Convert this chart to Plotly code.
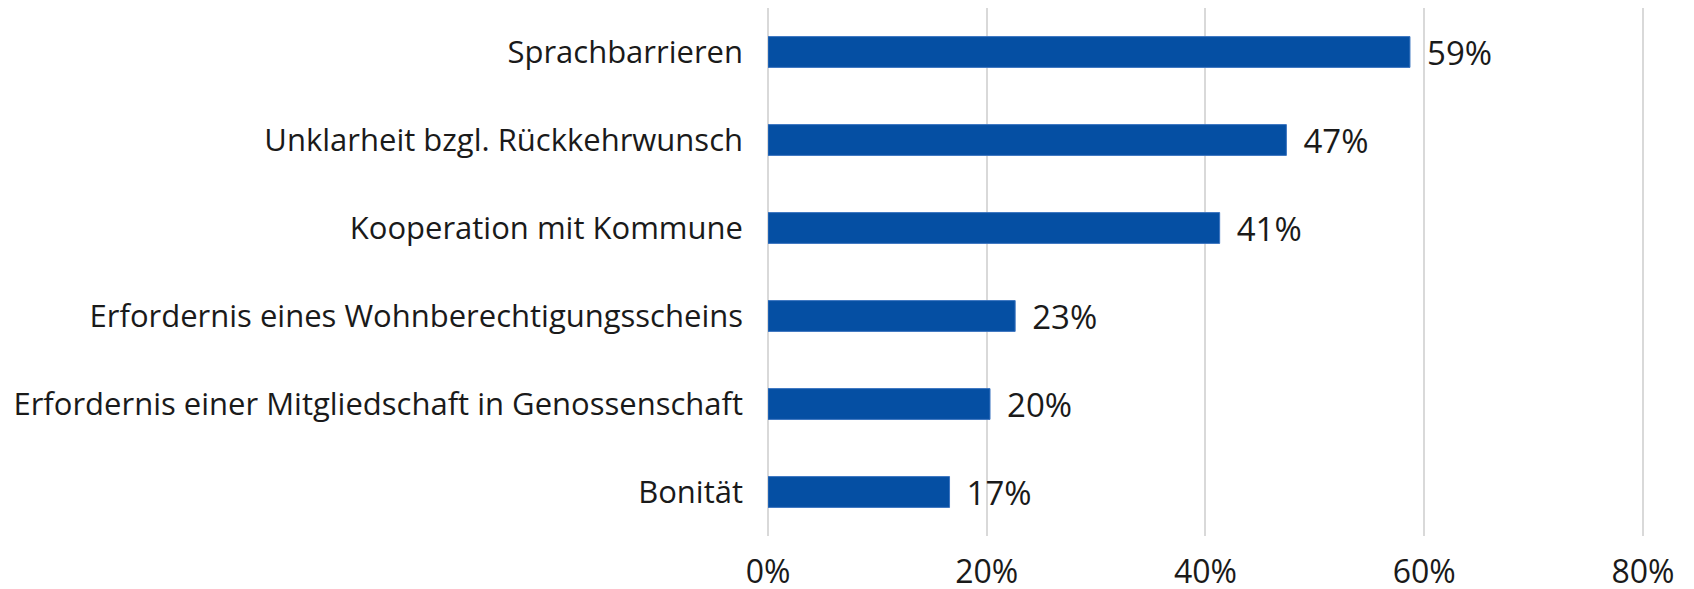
import plotly.graph_objects as go

categories = [
    "Sprachbarrieren",
    "Unklarheit bzgl. Rückkehrwunsch",
    "Kooperation mit Kommune",
    "Erfordernis eines Wohnberechtigungsscheins",
    "Erfordernis einer Mitgliedschaft in Genossenschaft",
    "Bonität",
]
values = [58.7, 47.4, 41.3, 22.6, 20.3, 16.6]
tick_vals = [0, 20, 40, 60, 80]
tick_text = ["0%", "20%", "40%", "60%", "80%"]

FONT = "Open Sans"
CAT_SIZE = 31
NUM_SIZE = 33
TICK_SIZE = 32
TXT = "#1a1a1a"

fig = go.Figure(
    go.Bar(
        y=categories,
        x=values,
        orientation="h",
        marker=dict(color="#054FA3", line=dict(color="#3b74c0", width=1)),
        texttemplate="\u00a0\u2009%{x:.0f}%",
        textposition="outside",
        constraintext="none",
        textfont=dict(family=FONT, size=NUM_SIZE, color=TXT),
        cliponaxis=False,
        width=0.35,
    )
)

fig.update_layout(
    width=1694,
    height=589,
    margin=dict(l=768, r=50, t=8, b=53),
    paper_bgcolor="white",
    plot_bgcolor="white",
    showlegend=False,
    font=dict(family=FONT, size=CAT_SIZE, color=TXT),
    xaxis=dict(
        range=[0, 80.1],
        tickvals=tick_vals,
        ticktext=tick_text,
        showgrid=True,
        gridcolor="#d9d9d9",
        gridwidth=1.5,
        zeroline=True,
        zerolinecolor="#d9d9d9",
        zerolinewidth=1.5,
        showline=False,
        ticks="",
        ticklabelstandoff=14,
        automargin=False,
        tickfont=dict(family=FONT, size=TICK_SIZE, color=TXT),
    ),
    yaxis=dict(
        autorange="reversed",
        showgrid=False,
        showline=False,
        ticks="",
        ticklabelstandoff=24,
        automargin=False,
        tickfont=dict(family=FONT, size=CAT_SIZE, color=TXT),
    ),
)

fig.write_html(
    "out.html",
    config={"displayModeBar": False},
    post_script="document.body.style.margin='0';document.body.style.overflow='hidden';",
)
